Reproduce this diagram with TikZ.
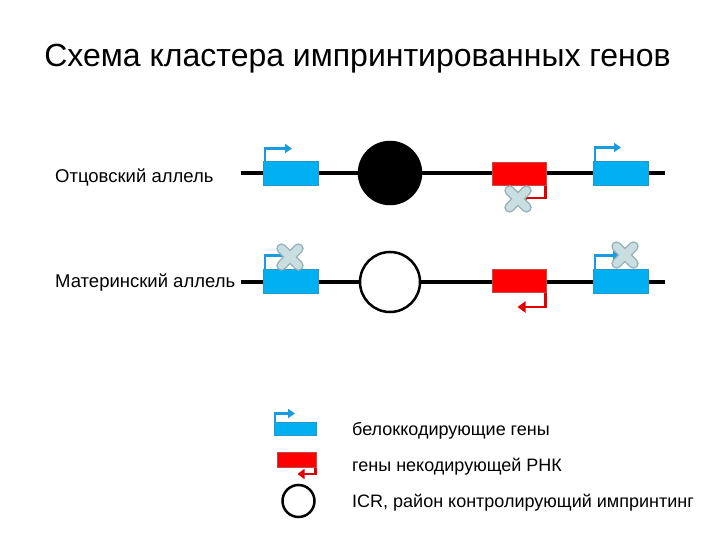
\documentclass[tikz,border=0pt]{standalone}
\usepackage{fontspec}
\setmainfont{Liberation Sans}
\usetikzlibrary{arrows.meta,positioning}
\definecolor{genblue}{RGB}{0,176,240}
\definecolor{genblueline}{RGB}{40,150,200}
\definecolor{genred}{RGB}{255,0,0}
\definecolor{genredline}{RGB}{200,70,70}
\definecolor{tssblue}{RGB}{25,155,225}
\definecolor{tssred}{RGB}{225,0,0}
\definecolor{crossfill}{RGB}{200,222,224}
\definecolor{crossline}{RGB}{150,178,184}
\tikzset{%
	pgene/.style  = {draw=genblueline, fill=genblue, line width=1, minimum width=55, minimum height=24, inner sep=0}, % protein-coding gene
	ncgene/.style = {draw=genredline, fill=genred, line width=1, minimum width=54, minimum height=23, inner sep=0}, % non-coding RNA gene
	icr/.style    = {draw, circle, line width=2.5, minimum size=60, inner sep=0},
	chrom/.style  = {line width=4},
	tss/.style    = {line width=2.5, -{Triangle[length=7,width=9]}},
	lbl/.style    = {anchor=base west, inner sep=0, font=\fontsize{18.5}{22}\selectfont},
	key/.style    = {anchor=base west, inner sep=0, font=\fontsize{18}{21}\selectfont},
	silenced/.pic = {
		\draw[crossline, line width=10.5, line cap=round] (-8.5,-8.5) -- (8.5,8.5) (-8.5,8.5) -- (8.5,-8.5);
		\draw[crossfill, line width=7.5, line cap=round] (-8.5,-8.5) -- (8.5,8.5) (-8.5,8.5) -- (8.5,-8.5);
	},
}
\begin{document}
\begin{tikzpicture}[x=1pt,y=-1pt]
	\useasboundingbox[fill=white] (0,0) rectangle (720,540);
	\node [anchor=base, inner sep=0, font=\fontsize{32}{36}\selectfont] (title) at (357.5,67) {Схема кластера импринтированных генов};

	% paternal allele
	\node [lbl] (pat) at (55,183) {Отцовский аллель};
	\coordinate (pL) at (241,173);
	\coordinate (pR) at (665,173);
	\draw [chrom] (pL) -- (pR);
	\node [pgene] (b1) at (291,174) {};
	\node [icr, fill=black, minimum size=62] (c1) at (390,173) {};
	\node [ncgene] (r1) at (519,174) {};
	\node [pgene] (b2) at (621,174) {};
	\draw [tss, tssblue] ([xshift=2]b1.north west) -- ++(0,-13) -- ++(27,0);
	\draw [tss, tssblue] ([xshift=2]b2.north west) -- ++(0,-14) -- ++(26,0);
	\draw [tss, tssred] ([xshift=-1]r1.south east) -- ++(0,12) -- ++(-26,0);
	\pic at (518,199) {silenced};

	% maternal allele
	\node [lbl] (mat) at (55,287) {Материнский аллель};
	\coordinate (mL) at (241,282);
	\coordinate (mR) at (665,282);
	\draw [chrom] (mL) -- (mR);
	\node [pgene] (b3) at (291,281) {};
	\node [icr, fill=white] (c2) at (390,282) {};
	\node [ncgene] (r2) at (519,281) {};
	\node [pgene] (b4) at (621,281) {};
	\draw [tss, tssblue] ([xshift=2]b3.north west) -- ++(0,-13) -- ++(25,0);
	\draw [tss, tssblue] ([xshift=2]b4.north west) -- ++(0,-13) -- ++(25,0);
	\draw [tss, tssred, -{Triangle[length=8,width=11]}] ([xshift=-1]r2.south east) -- ++(0,14) -- ++(-28,0);
	\pic at (290,257) {silenced};
	\pic at (625,255) {silenced};

	% legend
	\node [pgene, minimum width=42, minimum height=13] (lb) at (295.5,428.5) {};
	\node [ncgene, minimum width=39, minimum height=15] (lr) at (296.5,460) {};
	\node [icr, fill=white, minimum size=32] (lc) at (298.5,501) {};
	\draw [tss, tssblue] ([xshift=1]lb.north west) -- ++(0,-8) -- ++(20,0);
	\draw [tss, tssred, -{Triangle[length=7,width=10]}] ([xshift=-1]lr.south east) -- ++(0,6) -- ++(-18,0);
	\node [key] (tb) at (352,435) {белоккодирующие гены};
	\node [key] (tr) at (352,471.5) {гены некодирующей РНК};
	\node [key] (tc) at (352,507) {ICR, район контролирующий импринтинг};
\end{tikzpicture}
\end{document}
